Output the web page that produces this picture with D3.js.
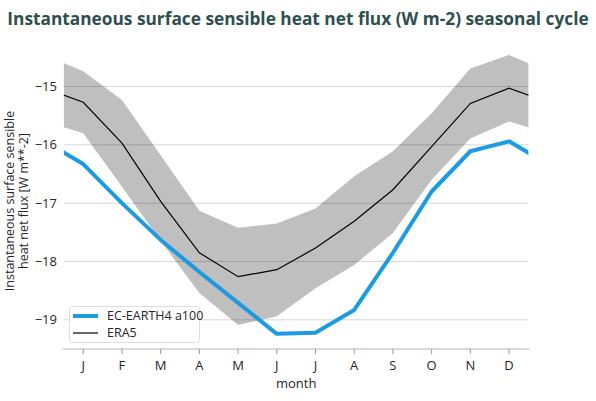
<!DOCTYPE html>
<html><head><meta charset="utf-8">
<script src="https://cdn.jsdelivr.net/npm/d3@7/dist/d3.min.js"></script>
<style>html,body{margin:0;padding:0;background:#fff;}svg{display:block;font-family:"Open Sans",sans-serif;}</style>
</head><body>
<svg id="chart" width="596" height="401"></svg>
<script>
const months = ["J","F","M","A","M","J","J","A","S","O","N","D"];
const yTicks = [-19,-18,-17,-16,-15];
const ecEarth = [-16.33,-17.0,-17.63,-18.18,-18.71,-19.24,-19.22,-18.83,-17.85,-16.8,-16.11,-15.94];
const era5 = [-15.27,-15.97,-16.97,-17.85,-18.26,-18.14,-17.77,-17.31,-16.77,-16.03,-15.29,-15.03];
const era5Upper = [-14.74,-15.23,-16.18,-17.13,-17.42,-17.35,-17.09,-16.54,-16.11,-15.46,-14.69,-14.46];
const era5Lower = [-15.80,-16.72,-17.65,-18.54,-19.09,-18.94,-18.46,-18.06,-17.51,-16.6,-15.89,-15.6];

const svg = d3.select("#chart");
const L = 63.9, R = 528.4, B = 349, T = 41;
const x = d3.scaleLinear().domain([0,12]).range([L,R]);
const y = d3.scaleLinear().domain([-19.5,-14.22]).range([B,T]);

// cyclic extension: previous December before January, next January after December
function cyc(arr){
  const pts = arr.map((v,i)=>({m:i+0.5,v}));
  return [{m:-0.5,v:arr[11]}, ...pts, {m:12.5,v:arr[0]}];
}

svg.append("defs").append("clipPath").attr("id","clip")
  .append("rect").attr("x",L).attr("y",0).attr("width",R-L).attr("height",B);

// title
svg.append("text").attr("x",298).attr("y",25).attr("text-anchor","middle")
  .attr("font-weight","bold").attr("font-size",17.3).attr("fill","#2f4f4f")
  .text("Instantaneous surface sensible heat net flux (W m-2) seasonal cycle");

// grid
svg.append("g").selectAll("line").data(yTicks).join("line")
  .attr("x1",L).attr("x2",R).attr("y1",d=>y(d)).attr("y2",d=>y(d))
  .attr("stroke","#d6d6d6").attr("stroke-width",1);

// y tick labels
svg.append("g").selectAll("text").data(yTicks).join("text")
  .attr("x",57).attr("y",d=>y(d)).attr("dy","0.35em").attr("text-anchor","end")
  .attr("font-size",13).attr("fill","#262626").text(d=>d3.format("")(d).replace("-","\u2212"));

const plot = svg.append("g").attr("clip-path","url(#clip)");

// band
const upC = cyc(era5Upper), loC = cyc(era5Lower);
const bandData = upC.map((d,i)=>({m:d.m, hi:d.v, lo:loC[i].v}));
plot.append("path").datum(bandData)
  .attr("d", d3.area().x(d=>x(d.m)).y0(d=>y(d.lo)).y1(d=>y(d.hi)))
  .attr("fill","#000").attr("fill-opacity",0.25);

const line = d3.line().x(d=>x(d.m)).y(d=>y(d.v));
plot.append("path").datum(cyc(ecEarth)).attr("d",line)
  .attr("fill","none").attr("stroke","#1c9be2").attr("stroke-width",4).attr("stroke-linejoin","round");
plot.append("path").datum(cyc(era5)).attr("d",line)
  .attr("fill","none").attr("stroke","#000").attr("stroke-width",1.2);

// x axis
svg.append("line").attr("x1",L-1).attr("x2",R+1).attr("y1",B).attr("y2",B)
  .attr("stroke","#cccccc").attr("stroke-width",1.5);
const xt = svg.append("g").selectAll("g").data(months).join("g")
  .attr("transform",(d,i)=>`translate(${x(i+0.5)},0)`);
xt.append("line").attr("y1",B).attr("y2",B+5).attr("stroke","#999").attr("stroke-width",1);
xt.append("text").attr("y",365).attr("dy","0.35em").attr("text-anchor","middle")
  .attr("font-size",13).attr("fill","#262626").text(d=>d);
svg.append("text").attr("x",(L+R)/2).attr("y",383).attr("dy","0.35em").attr("text-anchor","middle")
  .attr("font-size",13).attr("fill","#262626").text("month");

// y label
const yl = svg.append("text").attr("transform","translate(0,201) rotate(-90)")
  .attr("text-anchor","middle").attr("font-size",12.5).attr("fill","#262626");
yl.append("tspan").attr("x",0).attr("y",14).text("Instantaneous surface sensible");
yl.append("tspan").attr("x",0).attr("y",28).text("heat net flux [W m**-2]");

// legend
const lg = svg.append("g");
lg.append("rect").attr("x",69.5).attr("y",306.5).attr("width",130).attr("height",36).attr("rx",3)
  .attr("fill","#fff").attr("fill-opacity",0.85).attr("stroke","#dddddd");
lg.append("line").attr("x1",73).attr("x2",98).attr("y1",316).attr("y2",316).attr("stroke","#1c9be2").attr("stroke-width",4);
lg.append("line").attr("x1",73).attr("x2",98).attr("y1",333).attr("y2",333).attr("stroke","#000").attr("stroke-width",1.2);
lg.append("text").attr("x",107).attr("y",316).attr("dy","0.35em").attr("font-size",12.5).attr("fill","#262626").text("EC-EARTH4 a100");
lg.append("text").attr("x",107).attr("y",333).attr("dy","0.35em").attr("font-size",12.5).attr("fill","#262626").text("ERA5");
</script>
</body></html>
